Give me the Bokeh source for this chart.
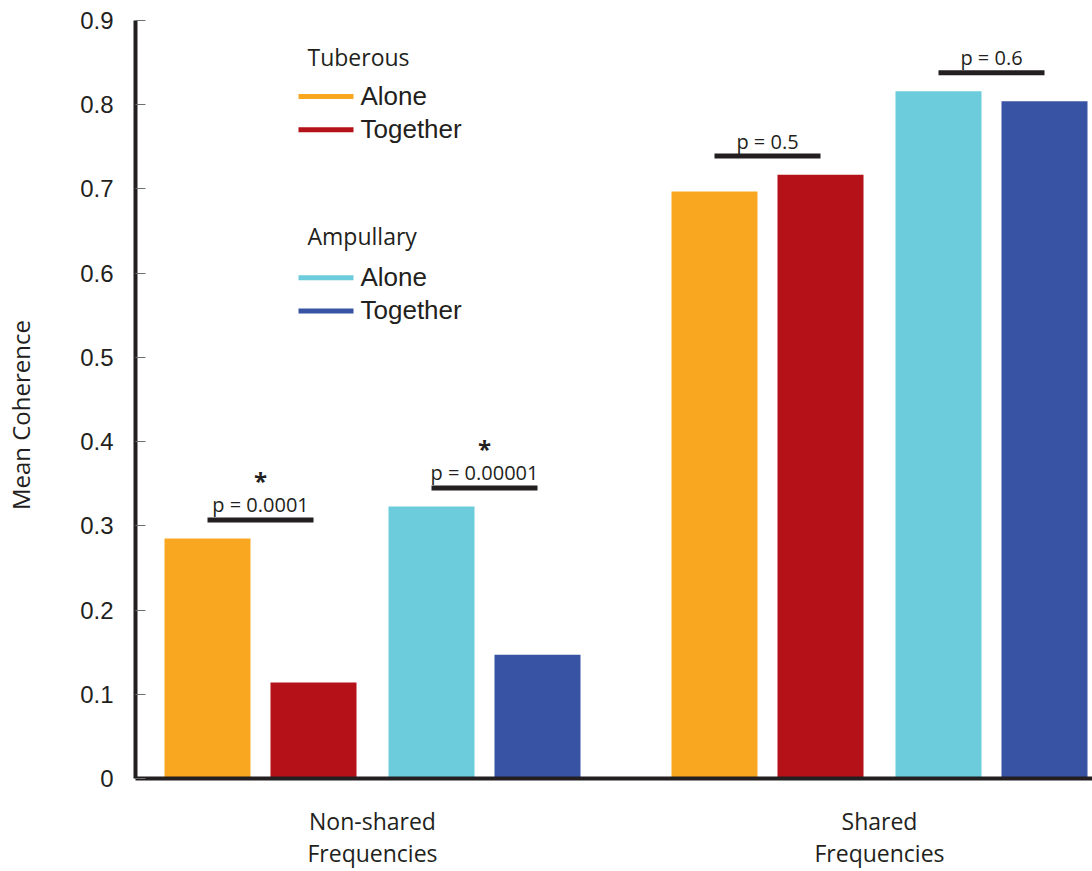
from bokeh.plotting import figure
from bokeh.models import Range1d, FixedTicker, Label, ColumnDataSource
from bokeh.core.properties import value
from bokeh.embed import file_html
from bokeh.resources import INLINE

# ---------------- data ----------------
groups = ["Non-shared\nFrequencies", "Shared\nFrequencies"]
receptors = ["Tuberous", "Ampullary"]
conditions = ["Alone", "Together"]
tuberous_alone = [0.285, 0.697]
tuberous_together = [0.114, 0.717]
ampullary_alone = [0.323, 0.816]
ampullary_together = [0.147, 0.804]
p_labels = ["p = 0.0001", "p = 0.00001", "p = 0.5", "p = 0.6"]  # (group, receptor) order
p_significant = [True, True, False, False]
y_ticks = [0, 0.1, 0.2, 0.3, 0.4, 0.5, 0.6, 0.7, 0.8, 0.9]
y_tick_labels = ["0", "0.1", "0.2", "0.3", "0.4", "0.5", "0.6", "0.7", "0.8", "0.9"]
y_axis_title = "Mean Coherence"

values = {
    ("Tuberous", "Alone"): tuberous_alone,
    ("Tuberous", "Together"): tuberous_together,
    ("Ampullary", "Alone"): ampullary_alone,
    ("Ampullary", "Together"): ampullary_together,
}
colors = {
    ("Tuberous", "Alone"): "#F9A720",
    ("Tuberous", "Together"): "#B51119",
    ("Ampullary", "Alone"): "#6CCCDB",
    ("Ampullary", "Together"): "#3953A4",
}

# ---------------- layout ----------------
W, H = 1092, 871
B_LEFT, B_RIGHT, B_TOP, B_BOTTOM = 135, 0, 20, 92
FRAME_W = W - B_LEFT - B_RIGHT
FRAME_H = H - B_TOP - B_BOTTOM
Y_MAX = 0.9
PPU = FRAME_H / Y_MAX          # pixels per y unit
INK = "#231F20"

BASE, G_STEP, R_STEP, C_STEP, BAR_W = 72, 507, 224, 106, 86


def xpos(gi, ri, ci):
    return BASE + gi * G_STEP + ri * R_STEP + ci * C_STEP


def iy(img_y):  # image-pixel y -> data y
    return (B_TOP + FRAME_H - img_y) / PPU


p = figure(width=W, height=H, x_range=Range1d(0, FRAME_W), y_range=Range1d(0, Y_MAX),
           output_backend="svg", toolbar_location=None,
           min_border_left=B_LEFT, min_border_right=B_RIGHT,
           min_border_top=B_TOP, min_border_bottom=B_BOTTOM)
p.outline_line_color = None
p.grid.visible = False
p.background_fill_color = "white"
p.border_fill_color = "white"

# bars
xs, tops, cols = [], [], []
for gi, g in enumerate(groups):
    for ri, r in enumerate(receptors):
        for ci, c in enumerate(conditions):
            xs.append(xpos(gi, ri, ci))
            tops.append(values[(r, c)][gi])
            cols.append(colors[(r, c)])
src = ColumnDataSource(dict(x=xs, top=tops, color=cols))
p.vbar(x="x", top="top", width=BAR_W, bottom=0, fill_color="color", line_color=None, source=src)

# significance brackets
sx0, sx1, sy, tx, ty, sig_x, sig_y, txt = [], [], [], [], [], [], [], []
k = 0
for gi, g in enumerate(groups):
    for ri, r in enumerate(receptors):
        x0, x1 = xpos(gi, ri, 0), xpos(gi, ri, 1)
        yline = max(values[(r, "Alone")][gi], values[(r, "Together")][gi]) + 0.022
        sx0.append(x0); sx1.append(x1); sy.append(yline)
        tx.append((x0 + x1) / 2); ty.append(yline + 15 / PPU); txt.append(p_labels[k])
        if p_significant[k]:
            sig_x.append((x0 + x1) / 2); sig_y.append(yline + 39 / PPU)
        k += 1
p.segment(x0=sx0, y0=sy, x1=sx1, y1=sy, line_width=5, line_color=INK, line_cap="butt")
p.text(x=tx, y=ty, text=txt, text_align="center", text_baseline="alphabetic",
       text_font=value("Open Sans"), text_font_size="20px", text_color=INK)
p.text(x=sig_x, y=sig_y, text=["*"] * len(sig_x), text_align="center", text_baseline="alphabetic",
       text_font=value("Open Sans"), text_font_size="24px", text_font_style="bold", text_color=INK)

# legend (manual, two titled groups)
LEG_X0, LEG_X1, LEG_TEXT_X, LEG_TITLE_X = 163, 218, 225, 172
title_mid = [57, 236]
row_line = [[96, 129.3], [277.7, 311]]
row_mid = [[95.5, 128.5], [277, 310]]
for ri, r in enumerate(receptors):
    p.add_layout(Label(x=LEG_TITLE_X, y=iy(title_mid[ri]), text=r, text_font="Open Sans",
                       text_font_size="23px", text_color=INK, text_baseline="alphabetic"))
    for ci, c in enumerate(conditions):
        p.segment(x0=[LEG_X0], x1=[LEG_X1], y0=[iy(row_line[ri][ci])], y1=[iy(row_line[ri][ci])],
                  line_width=5, line_color=colors[(r, c)], line_cap="butt")
        p.add_layout(Label(x=LEG_TEXT_X, y=iy(row_mid[ri][ci]), text=c, text_font="Liberation Sans",
                           text_font_size="26px", text_color=INK, text_baseline="alphabetic"))

# axes
group_centers = [xpos(gi, 0, 0) + (R_STEP + C_STEP) / 2 for gi in range(len(groups))]
p.xaxis.ticker = FixedTicker(ticks=group_centers)
p.xaxis.major_label_overrides = {c: g for c, g in zip(group_centers, groups)}
p.xaxis.major_label_text_font = "Open Sans"
p.xaxis.major_label_text_font_size = "23px"
p.xaxis.major_label_text_color = INK
p.xaxis.major_label_text_line_height = 1.0
p.xaxis.major_label_standoff = 26
p.xaxis.axis_line_width = 4
p.xaxis.axis_line_color = INK
p.xaxis.major_tick_line_color = None
p.xaxis.major_tick_in = 0
p.xaxis.major_tick_out = 0
p.xaxis.minor_tick_line_color = None

p.yaxis.ticker = FixedTicker(ticks=y_ticks)
p.yaxis.major_label_overrides = {t: l for t, l in zip(y_ticks, y_tick_labels)}
p.yaxis.axis_line_width = 4
p.yaxis.axis_line_color = INK
p.yaxis.major_tick_in = 10
p.yaxis.major_tick_out = 0
p.yaxis.major_tick_line_color = "#6D6E71"
p.yaxis.major_tick_line_width = 1
p.yaxis.minor_tick_line_color = None
p.yaxis.major_label_standoff = 22
p.yaxis.major_label_text_font = "Liberation Sans"
p.yaxis.major_label_text_font_size = "24px"
p.yaxis.major_label_text_color = INK
p.yaxis.axis_label = y_axis_title + "\u00a0" * 5
p.yaxis.axis_label_text_font = "Open Sans"
p.yaxis.axis_label_text_font_size = "24px"
p.yaxis.axis_label_text_font_style = "normal"
p.yaxis.axis_label_text_color = INK
p.yaxis.axis_label_standoff = 40

open("out.html", "w").write(file_html(p, INLINE))
